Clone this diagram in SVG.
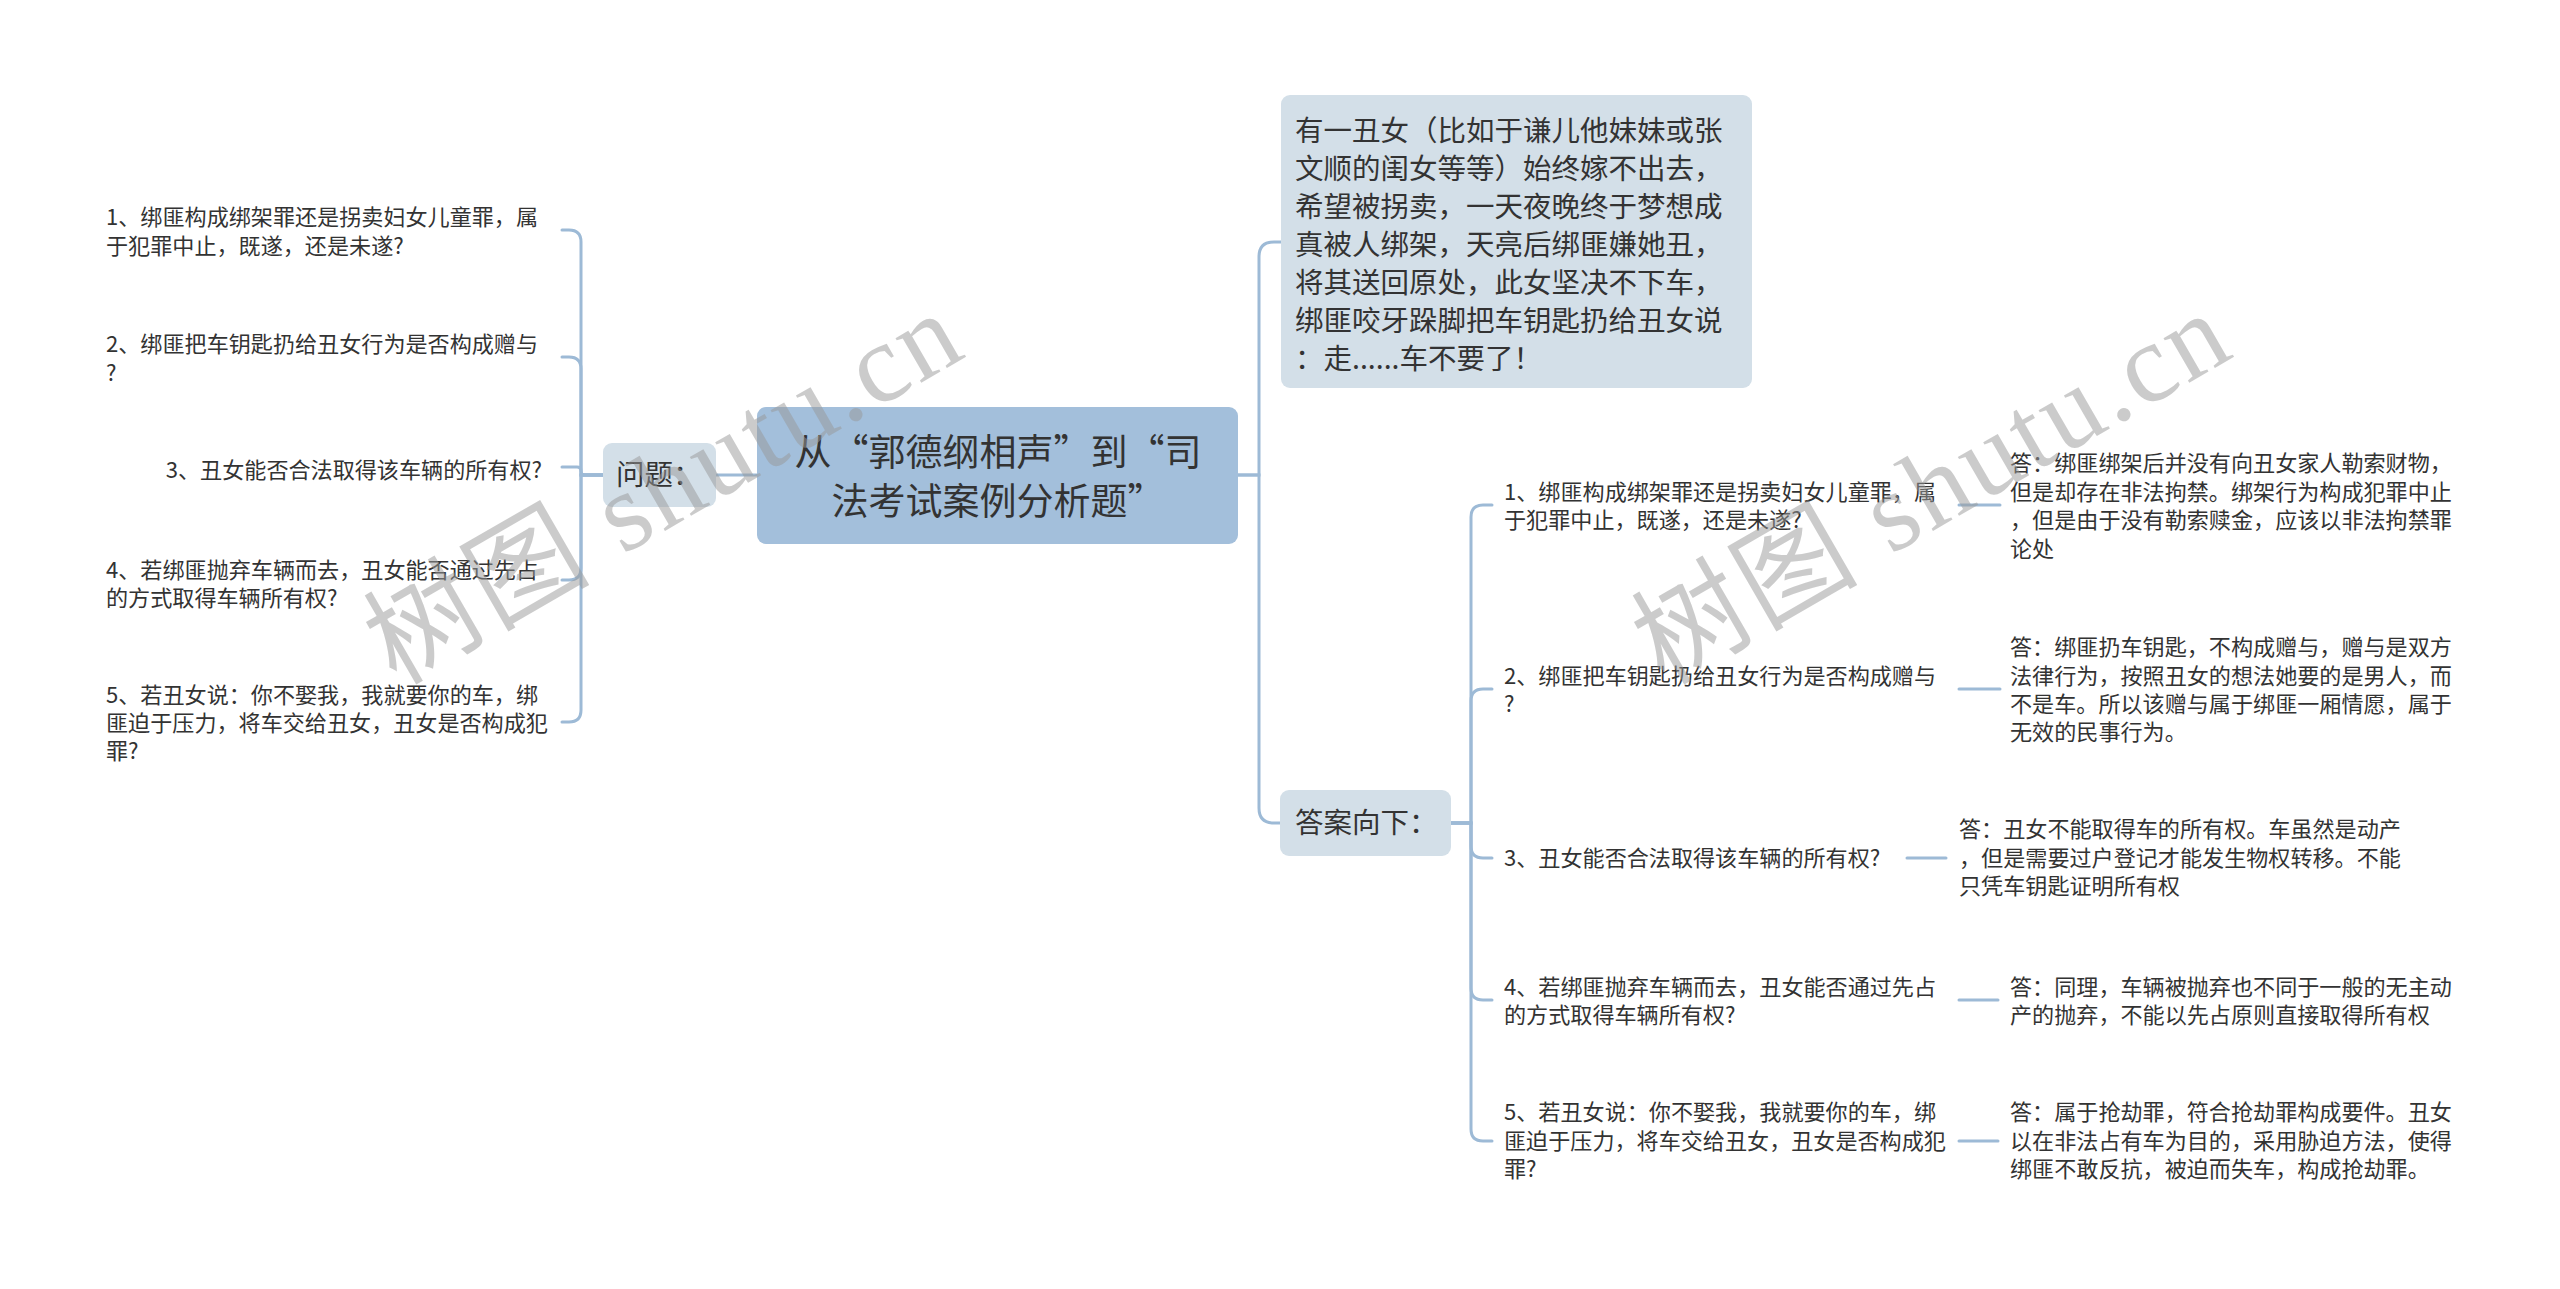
<svg xmlns="http://www.w3.org/2000/svg" width="2560" height="1289" viewBox="0 0 2560 1289">
<style>
.bg{fill:#ffffff}
.line{fill:none;stroke:#9dbad6;stroke-width:3;stroke-linecap:round}
.root rect{fill:#a3bfdb}
.sub rect{fill:#d3dfe8}
.t{font-family:"Noto Sans CJK SC","Liberation Sans",sans-serif;fill:#333333}
.t22{font-size:22.1px}
.t28{font-size:28.5px}
.t37{font-size:37px}
.wm{font-family:"Liberation Serif","Noto Sans CJK SC",serif;font-size:112px;fill:#999999;opacity:0.5}
</style>
<rect class="bg" x="0" y="0" width="2560" height="1289"/>

<g id="connectors">
  <path class="line" d="M757 475 H716"/>
  <path class="line" d="M603 475 H581 V242 Q581 230 569 230 H562"/>
  <path class="line" d="M603 475 H581 V369 Q581 357 569 357 H562"/>
  <path class="line" d="M603 475 H585 Q581 475 581 471 Q581 467 577 467 H562"/>
  <path class="line" d="M603 475 H581 V568 Q581 580 569 580 H562"/>
  <path class="line" d="M603 475 H581 V710 Q581 722 569 722 H562"/>
  <path class="line" d="M1238 475 H1259 V257 Q1259 242 1274 242 H1281"/>
  <path class="line" d="M1238 475 H1259 V808 Q1259 823 1274 823 H1280"/>
  <path class="line" d="M1451 823 H1471 V517 Q1471 505 1483 505 H1492"/>
  <path class="line" d="M1451 823 H1471 V701 Q1471 689 1483 689 H1492"/>
  <path class="line" d="M1451 823 H1471 V846 Q1471 858 1483 858 H1492"/>
  <path class="line" d="M1451 823 H1471 V988 Q1471 1000 1483 1000 H1492"/>
  <path class="line" d="M1451 823 H1471 V1129 Q1471 1141 1483 1141 H1492"/>
  <path class="line" d="M1959 505 H2000"/>
  <path class="line" d="M1959 689 H2000"/>
  <path class="line" d="M1907 858 H1946"/>
  <path class="line" d="M1959 1000 H1998"/>
  <path class="line" d="M1959 1141 H1998"/>
</g>

<g id="root" class="root">
  <rect x="757" y="407" width="481" height="137" rx="9"/>
  <text class="t t37" text-anchor="middle"><tspan x="998" y="466">从“郭德纲相声”到“司</tspan><tspan x="998" y="515">法考试案例分析题”</tspan></text>
</g>

<g id="questions" class="sub">
  <rect x="603" y="443" width="113" height="64" rx="9"/>
  <text class="t t28" x="616" y="485">问题：</text>
</g>

<g id="lq1"><text class="t t22"><tspan x="106" y="225">1、绑匪构成绑架罪还是拐卖妇女儿童罪，属</tspan><tspan x="106" y="254">于犯罪中止，既遂，还是未遂?</tspan></text></g>
<g id="lq2"><text class="t t22"><tspan x="106" y="352">2、绑匪把车钥匙扔给丑女行为是否构成赠与</tspan><tspan x="106" y="381">?</tspan></text></g>
<g id="lq3"><text class="t t22" x="542" y="478" text-anchor="end">3、丑女能否合法取得该车辆的所有权?</text></g>
<g id="lq4"><text class="t t22"><tspan x="106" y="578">4、若绑匪抛弃车辆而去，丑女能否通过先占</tspan><tspan x="106" y="606">的方式取得车辆所有权?</tspan></text></g>
<g id="lq5"><text class="t t22"><tspan x="106" y="703">5、若丑女说：你不娶我，我就要你的车，绑</tspan><tspan x="106" y="731">匪迫于压力，将车交给丑女，丑女是否构成犯</tspan><tspan x="106" y="759">罪?</tspan></text></g>

<g id="story" class="sub">
  <rect x="1281" y="95" width="471" height="293" rx="9"/>
  <text class="t t28"><tspan x="1295" y="141">有一丑女（比如于谦儿他妹妹或张</tspan><tspan x="1295" y="179">文顺的闺女等等）始终嫁不出去，</tspan><tspan x="1295" y="217">希望被拐卖，一天夜晚终于梦想成</tspan><tspan x="1295" y="255">真被人绑架，天亮后绑匪嫌她丑，</tspan><tspan x="1295" y="293">将其送回原处，此女坚决不下车，</tspan><tspan x="1295" y="331">绑匪咬牙跺脚把车钥匙扔给丑女说</tspan><tspan x="1295" y="369">：走......车不要了！</tspan></text>
</g>

<g id="answers" class="sub">
  <rect x="1280" y="790" width="171" height="66" rx="9"/>
  <text class="t t28" x="1295" y="833">答案向下：</text>
</g>

<g id="rq1"><text class="t t22"><tspan x="1504" y="500">1、绑匪构成绑架罪还是拐卖妇女儿童罪，属</tspan><tspan x="1504" y="528">于犯罪中止，既遂，还是未遂?</tspan></text></g>
<g id="rq2"><text class="t t22"><tspan x="1504" y="684">2、绑匪把车钥匙扔给丑女行为是否构成赠与</tspan><tspan x="1504" y="712">?</tspan></text></g>
<g id="rq3"><text class="t t22" x="1504" y="866">3、丑女能否合法取得该车辆的所有权?</text></g>
<g id="rq4"><text class="t t22"><tspan x="1504" y="995">4、若绑匪抛弃车辆而去，丑女能否通过先占</tspan><tspan x="1504" y="1023">的方式取得车辆所有权?</tspan></text></g>
<g id="rq5"><text class="t t22"><tspan x="1504" y="1120">5、若丑女说：你不娶我，我就要你的车，绑</tspan><tspan x="1504" y="1149">匪迫于压力，将车交给丑女，丑女是否构成犯</tspan><tspan x="1504" y="1177">罪?</tspan></text></g>

<g id="a1"><text class="t t22"><tspan x="2010" y="471">答：绑匪绑架后并没有向丑女家人勒索财物，</tspan><tspan x="2010" y="500">但是却存在非法拘禁。绑架行为构成犯罪中止</tspan><tspan x="2010" y="528">，但是由于没有勒索赎金，应该以非法拘禁罪</tspan><tspan x="2010" y="557">论处</tspan></text></g>
<g id="a2"><text class="t t22"><tspan x="2010" y="655">答：绑匪扔车钥匙，不构成赠与，赠与是双方</tspan><tspan x="2010" y="684">法律行为，按照丑女的想法她要的是男人，而</tspan><tspan x="2010" y="712">不是车。所以该赠与属于绑匪一厢情愿，属于</tspan><tspan x="2010" y="740">无效的民事行为。</tspan></text></g>
<g id="a3"><text class="t t22"><tspan x="1959" y="837">答：丑女不能取得车的所有权。车虽然是动产</tspan><tspan x="1959" y="866">，但是需要过户登记才能发生物权转移。不能</tspan><tspan x="1959" y="894">只凭车钥匙证明所有权</tspan></text></g>
<g id="a4"><text class="t t22"><tspan x="2010" y="995">答：同理，车辆被抛弃也不同于一般的无主动</tspan><tspan x="2010" y="1023">产的抛弃，不能以先占原则直接取得所有权</tspan></text></g>
<g id="a5"><text class="t t22"><tspan x="2010" y="1120">答：属于抢劫罪，符合抢劫罪构成要件。丑女</tspan><tspan x="2010" y="1149">以在非法占有车为目的，采用胁迫方法，使得</tspan><tspan x="2010" y="1177">绑匪不敢反抗，被迫而失车，构成抢劫罪。</tspan></text></g>

<g id="watermarks">
  <text class="wm" transform="translate(396 686) rotate(-30)" textLength="660" lengthAdjust="spacing">树图 shutu.cn</text>
  <text class="wm" transform="translate(1664 686) rotate(-30)" textLength="660" lengthAdjust="spacing">树图 shutu.cn</text>
</g>
</svg>
